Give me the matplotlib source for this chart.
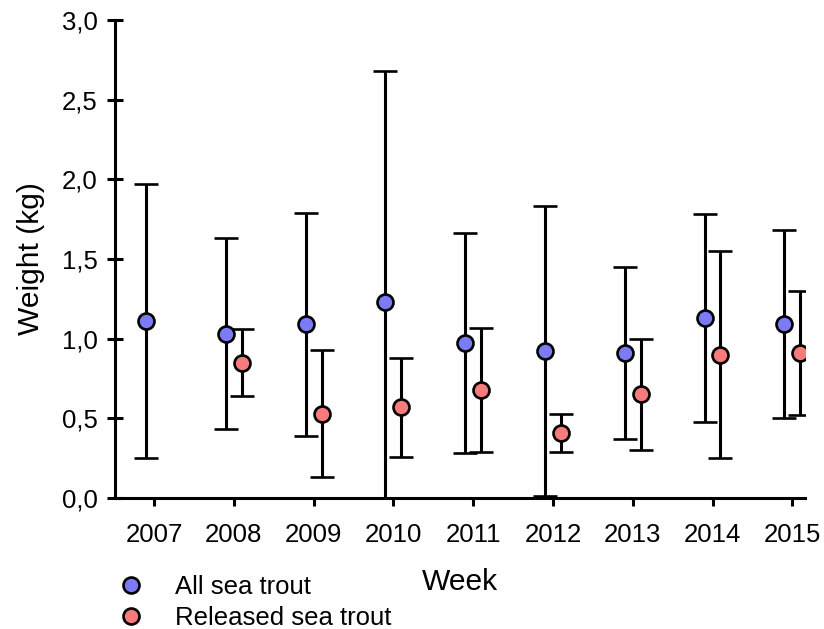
"""Sea trout weight per year (mean ± SD), all vs released."""

import matplotlib
matplotlib.use("Agg")
import matplotlib.pyplot as plt  # noqa: E402
from matplotlib.lines import Line2D  # noqa: E402

plt.rcParams.update({"font.family": ["Liberation Sans", "DejaVu Sans"], "font.size": 18.5})

years = [2007, 2008, 2009, 2010, 2011, 2012, 2013, 2014, 2015]
all_mean = [1.11, 1.03, 1.09, 1.23, 0.97, 0.92, 0.91, 1.13, 1.09]
all_sd = [0.86, 0.60, 0.70, 1.45, 0.69, 0.91, 0.54, 0.65, 0.59]
rel_years = [2008, 2009, 2010, 2011, 2012, 2013, 2014, 2015]
rel_mean = [0.85, 0.53, 0.57, 0.68, 0.41, 0.65, 0.90, 0.91]
rel_sd = [0.21, 0.40, 0.31, 0.39, 0.12, 0.35, 0.65, 0.39]
yticks = [0.0, 0.5, 1.0, 1.5, 2.0, 2.5, 3.0]

BLUE = "#7b7bf6"
RED = "#f77b7b"
off = 0.1
LW = 2.2

fig = plt.figure(figsize=(8.24, 6.29), dpi=100)
ax = fig.add_axes([0.1396, 0.2083, 0.8374, 0.7599])

common = dict(fmt="o", ms=11.5, mec="black", mew=1.9, ecolor="black",
              elinewidth=LW, capsize=8.3, capthick=LW)
ax.errorbar([y - off for y in years], all_mean, yerr=all_sd, mfc=BLUE, zorder=3, **common)
ax.errorbar([y + off for y in rel_years], rel_mean, yerr=rel_sd, mfc=RED, zorder=3, **common)

ax.set_xlim(2006.51, 2015.16)
ax.set_ylim(0, 3.0)
ax.set_xticks(years)
ax.set_xticklabels([str(y) for y in years])
ax.set_yticks(yticks)
ax.set_yticklabels([f"{v:.1f}".replace(".", ",") for v in yticks])

for s in ("top", "right"):
    ax.spines[s].set_visible(False)
for s in ("left", "bottom"):
    ax.spines[s].set_linewidth(LW)
ax.tick_params(axis="y", direction="inout", length=11, width=LW, pad=7)
ax.tick_params(axis="x", direction="out", length=6, width=LW, pad=12)

ax.set_ylabel("Weight (kg)", fontsize=21.6, labelpad=12)
ax.set_xlabel("Week", fontsize=21.6, labelpad=15)

handles = [
    Line2D([], [], ls="none", marker="o", ms=11.5, mfc=BLUE, mec="black", mew=1.9),
    Line2D([], [], ls="none", marker="o", ms=11.5, mfc=RED, mec="black", mew=1.9),
]
fig.legend(handles, ["All sea trout", "Released sea trout"], loc="upper left",
           bbox_to_anchor=(0.1275, 0.086), frameon=False, handletextpad=0.72,
           labelspacing=0.28, borderaxespad=0, borderpad=0, fontsize=18.5)

fig.savefig("out.png", dpi=100)
